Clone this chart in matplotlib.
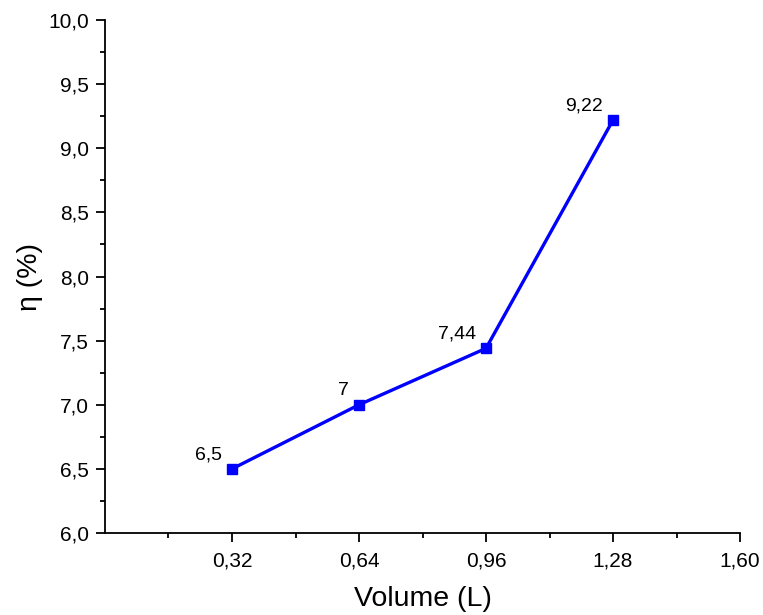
import matplotlib
matplotlib.use('Agg')
import matplotlib.pyplot as plt
from matplotlib.ticker import FuncFormatter, MultipleLocator, FixedLocator

plt.rcParams['font.family'] = ['Liberation Sans', 'DejaVu Sans']

# dados
volume = [0.32, 0.64, 0.96, 1.28]
eficiencia = [6.5, 7.0, 7.44, 9.22]
rotulos = ['6,5', '7', '7,44', '9,22']
xticks = [0.32, 0.64, 0.96, 1.28, 1.60]


def virgula(casas):
  return FuncFormatter(lambda v, pos: ('%.*f' % (casas, v)).replace('.', ','))


fig = plt.figure(figsize=(7.63, 6.15), dpi=100)
ax = fig.add_axes([0.1376, 0.1333, 0.8323, 0.8342])

ax.plot(volume, eficiencia, color='#0000ff', lw=2.4, marker='s', ms=7.5,
        mec='#0000ff', mfc='#0000ff')

for x, y, r in zip(volume, eficiencia, rotulos):
  ax.annotate(r, (x, y), xytext=(-7, 4), textcoords='offset points',
              ha='right', va='bottom', fontsize=14)

ax.set_xlim(0, 1.60)
ax.set_ylim(6.0, 10.0)
ax.xaxis.set_major_locator(FixedLocator(xticks))
ax.xaxis.set_minor_locator(FixedLocator([0.16, 0.48, 0.80, 1.12, 1.44]))
ax.xaxis.set_major_formatter(virgula(2))
ax.yaxis.set_major_locator(MultipleLocator(0.5))
ax.yaxis.set_minor_locator(MultipleLocator(0.25))
ax.yaxis.set_major_formatter(virgula(1))

for lado in ['top', 'right']:
  ax.spines[lado].set_visible(False)
for lado in ['left', 'bottom']:
  ax.spines[lado].set_linewidth(1.3)

ax.tick_params(which='major', length=6.5, width=1.3, labelsize=15, pad=5)
ax.tick_params(axis='x', which='major', pad=7)
ax.tick_params(which='minor', length=3.6, width=1.3)

ax.set_xlabel('Volume (L)', fontsize=20.5, labelpad=11)
ax.set_ylabel('η (%)', fontsize=20.5, labelpad=4)

fig.savefig('out.png', dpi=100)
